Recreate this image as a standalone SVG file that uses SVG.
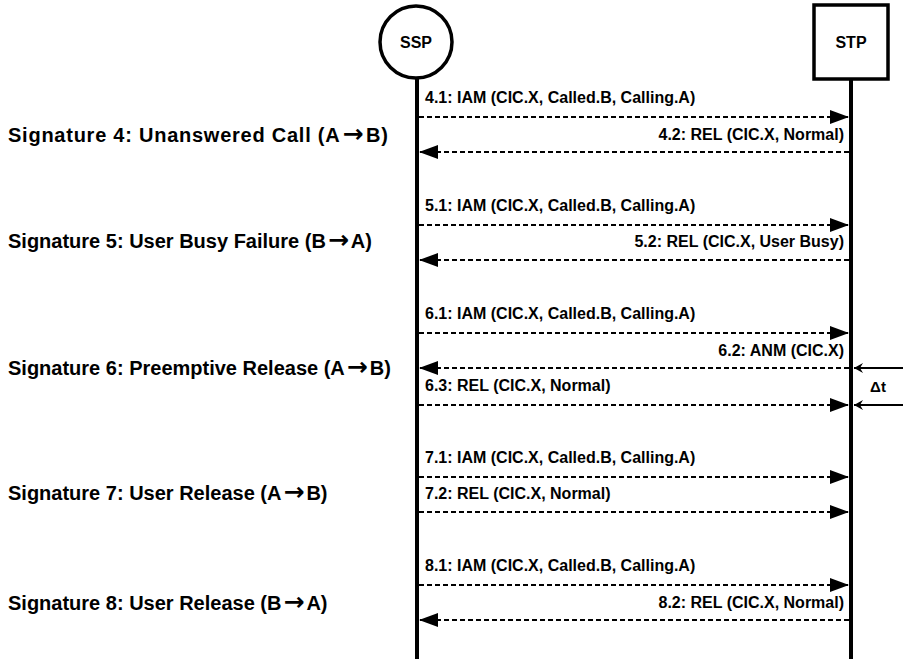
<svg xmlns="http://www.w3.org/2000/svg" width="903" height="661" viewBox="0 0 903 661">
<defs>
<style>
.sig{font-family:"Liberation Sans",Arial,sans-serif;font-weight:bold;font-size:20px;fill:#000}
.arr{font-family:"DejaVu Sans",sans-serif;font-weight:bold;font-size:25px}
.msg{font-family:"Liberation Sans",Arial,sans-serif;font-weight:bold;font-size:16px;fill:#000}
.node{font-family:"Liberation Sans",Arial,sans-serif;font-weight:bold;font-size:16px;fill:#000}
.life{stroke:#000;stroke-width:4;fill:none}
.dash{stroke:#000;stroke-width:2;stroke-dasharray:5 3;fill:none;marker-end:url(#ah)}
.dt{stroke:#000;stroke-width:2;fill:none;marker-end:url(#oh)}
</style>
<marker id="ah" markerUnits="userSpaceOnUse" markerWidth="19" markerHeight="14" refX="19" refY="7" orient="auto">
<path d="M0,0 L19,7 L0,14 z" fill="#000"/>
</marker>
<marker id="oh" markerUnits="userSpaceOnUse" markerWidth="10" markerHeight="10" refX="9" refY="5" orient="auto">
<path d="M0,0 L9,5 L0,10 L3,5 z" fill="#000"/>
</marker>
</defs>
<rect width="903" height="661" fill="#fff"/>
<g id="SSP">
<circle cx="416" cy="42" r="36" fill="#fff" stroke="#000" stroke-width="3.5"/>
<text class="node" x="416" y="48" text-anchor="middle">SSP</text>
<line class="life" x1="417" y1="79" x2="417" y2="659"/>
</g>
<g id="STP">
<rect x="814" y="5" width="74" height="74" fill="#fff" stroke="#000" stroke-width="3.5"/>
<text class="node" x="851" y="48" text-anchor="middle">STP</text>
<line class="life" x1="851" y1="80" x2="851" y2="659"/>
</g>
<g id="signatures">
<text class="sig" x="8" y="142" textLength="380">Signature 4: Unanswered Call (A<tspan class="arr" dx="2">→</tspan><tspan dx="2">B)</tspan></text>
<text class="sig" x="8" y="248">Signature 5: User Busy Failure (B<tspan class="arr" dx="2">→</tspan><tspan dx="2">A)</tspan></text>
<text class="sig" x="8" y="375">Signature 6: Preemptive Release (A<tspan class="arr" dx="2">→</tspan><tspan dx="2">B)</tspan></text>
<text class="sig" x="8" y="500">Signature 7: User Release (A<tspan class="arr" dx="2">→</tspan><tspan dx="2">B)</tspan></text>
<text class="sig" x="8" y="610">Signature 8: User Release (B<tspan class="arr" dx="2">→</tspan><tspan dx="2">A)</tspan></text>
</g>
<g id="connectors">
<line class="dash" x1="419" y1="117" x2="849" y2="117"/>
<line class="dash" x1="849" y1="152" x2="419" y2="152"/>
<line class="dash" x1="419" y1="225" x2="849" y2="225"/>
<line class="dash" x1="849" y1="260" x2="419" y2="260"/>
<line class="dash" x1="419" y1="333" x2="849" y2="333"/>
<line class="dash" x1="849" y1="368" x2="419" y2="368"/>
<line class="dash" x1="419" y1="405" x2="849" y2="405"/>
<line class="dash" x1="419" y1="477" x2="849" y2="477"/>
<line class="dash" x1="419" y1="512" x2="849" y2="512"/>
<line class="dash" x1="419" y1="585" x2="849" y2="585"/>
<line class="dash" x1="849" y1="620" x2="419" y2="620"/>
<line class="dt" x1="903" y1="368" x2="854" y2="368"/>
<line class="dt" x1="903" y1="405" x2="854" y2="405"/>
</g>
<g id="labels">
<text class="msg" x="425" y="103">4.1: IAM (CIC.X, Called.B, Calling.A)</text>
<text class="msg" x="844" y="140" text-anchor="end">4.2: REL (CIC.X, Normal)</text>
<text class="msg" x="425" y="211">5.1: IAM (CIC.X, Called.B, Calling.A)</text>
<text class="msg" x="844" y="247" text-anchor="end">5.2: REL (CIC.X, User Busy)</text>
<text class="msg" x="425" y="319">6.1: IAM (CIC.X, Called.B, Calling.A)</text>
<text class="msg" x="844" y="356" text-anchor="end">6.2: ANM (CIC.X)</text>
<text class="msg" x="425" y="391">6.3: REL (CIC.X, Normal)</text>
<text class="msg" x="425" y="463">7.1: IAM (CIC.X, Called.B, Calling.A)</text>
<text class="msg" x="425" y="499">7.2: REL (CIC.X, Normal)</text>
<text class="msg" x="425" y="571">8.1: IAM (CIC.X, Called.B, Calling.A)</text>
<text class="msg" x="844" y="608" text-anchor="end">8.2: REL (CIC.X, Normal)</text>
<text class="msg" x="878" y="392" text-anchor="middle" style="font-size:15px">Δt</text>
</g>
</svg>
